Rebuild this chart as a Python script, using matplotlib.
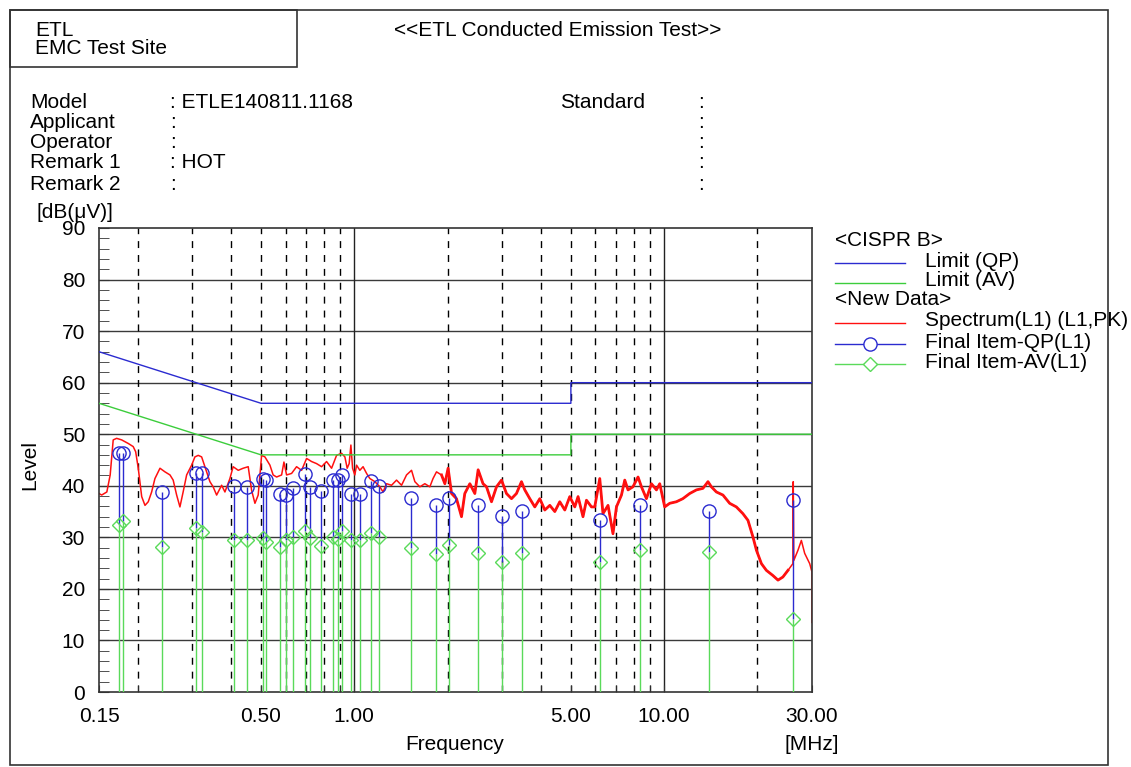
import matplotlib
matplotlib.use('Agg')
import matplotlib.pyplot as plt
from matplotlib.lines import Line2D
from matplotlib.patches import Rectangle
from matplotlib.ticker import FixedLocator, NullFormatter

plt.rcParams['font.family'] = ['Liberation Sans', 'DejaVu Sans']

# ---- data ----
# CISPR 22 class B limits (MHz, dBuV)
limit_freq = [0.15, 0.5, 5.0, 5.0, 30.0]
limit_qp = [66, 56, 56, 60, 60]
limit_av = [56, 46, 46, 50, 50]

# peak spectrum trace (MHz, dBuV)
spectrum_freq = [
    0.150, 0.153, 0.159, 0.163, 0.1667, 0.171, 0.1775, 0.1865, 0.1934, 0.197,
    0.2008, 0.206, 0.2111, 0.2163, 0.2218, 0.2273, 0.236, 0.2449, 0.2542, 0.2603,
    0.2671, 0.2737, 0.2803, 0.2877, 0.2986, 0.3059, 0.3136, 0.3216, 0.3296, 0.342,
    0.3503, 0.3595, 0.3731, 0.3824, 0.3968, 0.4064, 0.4221, 0.4378, 0.4546, 0.4663,
    0.4779, 0.4896, 0.5022, 0.5147, 0.5342, 0.5471, 0.5614, 0.5827, 0.5928, 0.6047,
    0.6276, 0.6512, 0.676, 0.7015, 0.7281, 0.7555, 0.7842, 0.8138, 0.8447, 0.8765,
    0.9098, 0.9325, 0.9484, 0.9626, 0.975, 0.9873, 1.004, 1.017, 1.042, 1.0674,
    1.0954, 1.1226, 1.1652, 1.2092, 1.2384, 1.2707, 1.3189, 1.3687, 1.4207, 1.4743,
    1.5302, 1.5683, 1.6275, 1.6892, 1.753, 1.795, 1.842, 1.912, 1.96, 2.008,
    2.06, 2.137, 2.218, 2.273, 2.36, 2.449, 2.51, 2.603, 2.671, 2.772,
    2.877, 2.986, 3.098, 3.216, 3.337, 3.464, 3.55, 3.684, 3.824, 3.969,
    4.119, 4.275, 4.437, 4.604, 4.779, 4.959, 5.147, 5.274, 5.471, 5.614,
    5.827, 5.97, 6.197, 6.347, 6.59, 6.836, 7.015, 7.281, 7.462, 7.646,
    7.93, 8.236, 8.447, 8.765, 9.098, 9.442, 9.677, 10.04, 10.42, 10.95,
    11.49, 12.09, 12.71, 13.34, 13.85, 14.2, 14.74, 15.48, 16.27, 17.1,
    17.95, 18.64, 19.34, 19.85, 20.6, 21.37, 22.43, 23.3, 24.16, 25.1,
    26.03, 26.1, 26.2, 27.03, 27.72, 28.41, 29.49, 29.99, 30.0]
spectrum_level = [
    38.5, 38.2, 38.8, 42.1, 48.9, 49.2, 48.9, 48.2, 47.6, 46.6,
    43.4, 37.9, 36.2, 36.9, 38.8, 41.4, 43.4, 42.7, 42.1, 41.1,
    38.2, 35.9, 38.8, 42.1, 44.0, 45.6, 45.9, 45.6, 43.7, 40.8,
    39.8, 38.2, 40.1, 38.8, 41.4, 43.7, 43.0, 43.4, 43.7, 39.1,
    36.6, 38.2, 45.9, 45.6, 44.0, 42.1, 41.7, 42.1, 44.6, 42.1,
    42.4, 43.7, 43.0, 45.3, 44.7, 44.3, 43.7, 44.7, 43.4, 45.9,
    46.3, 45.6, 43.4, 44.3, 47.9, 43.4, 42.1, 44.0, 43.0, 43.7,
    42.4, 41.4, 40.8, 39.8, 38.8, 40.4, 40.1, 41.1, 40.1, 42.1,
    43.0, 40.8, 39.8, 40.4, 39.8, 41.4, 42.7, 42.1, 40.4, 43.4,
    38.5, 37.5, 34.0, 38.5, 40.4, 38.5, 43.1, 40.4, 39.8, 36.9,
    39.8, 41.1, 38.5, 37.5, 38.5, 40.8, 39.2, 37.5, 35.9, 37.5,
    35.3, 36.2, 35.0, 36.9, 35.3, 37.9, 35.9, 37.9, 34.0, 37.2,
    35.9, 35.9, 41.4, 34.6, 36.2, 30.7, 35.9, 38.2, 41.1, 39.2,
    39.8, 41.7, 39.8, 37.5, 40.4, 39.2, 40.4, 35.9, 36.6, 36.9,
    37.5, 38.5, 39.2, 39.5, 40.8, 39.8, 38.8, 38.2, 36.6, 35.9,
    34.6, 33.3, 30.1, 27.5, 24.9, 23.6, 22.6, 21.7, 22.3, 23.6,
    24.9, 40.8, 25.5, 27.5, 29.4, 26.9, 24.9, 23.3, 13.5]

# final measurement items
item_freq = [0.174, 0.179, 0.240, 0.309, 0.322, 0.409, 0.449, 0.507, 0.520, 0.577,
             0.601, 0.634, 0.695, 0.718, 0.779, 0.851, 0.884, 0.910, 0.973, 1.040,
             1.135, 1.198, 1.519, 1.829, 2.018, 2.515, 2.990, 3.479, 6.21, 8.35,
             13.97, 26.0]
item_qp = [46.3, 46.3, 38.7, 42.5, 42.4, 40.0, 39.8, 41.3, 41.1, 38.5,
           38.2, 39.5, 42.2, 39.8, 38.9, 41.1, 41.2, 42.0, 38.5, 38.5,
           40.9, 39.9, 37.7, 36.3, 37.7, 36.3, 34.2, 35.1, 33.3, 36.3,
           35.1, 37.2]
item_av = [32.3, 33.1, 28.2, 31.8, 31.1, 29.4, 29.4, 29.9, 29.0, 28.2,
           29.4, 30.0, 31.2, 29.9, 28.4, 30.1, 29.6, 31.3, 29.5, 29.5,
           30.9, 30.1, 27.9, 26.7, 28.6, 26.9, 25.3, 27.0, 25.3, 27.5,
           27.2, 14.2]

x_tick_values = [0.15, 0.5, 1.0, 5.0, 10.0, 30.0]
y_tick_values = [0, 10, 20, 30, 40, 50, 60, 70, 80, 90]

header_labels = ['Model', 'Applicant', 'Operator', 'Remark 1', 'Remark 2']
header_values = [': ETLE140811.1168', ':', ':', ': HOT', ':']

RED = '#ff1010'
BLUE = '#2b2bd0'
GREEN = '#3ccd3c'
STEM_GREEN = '#5ada5a'

W, H = 1131, 767
FS = 15


def fx(px):
    return px / W


def fy(py):
    return 1 - py / H


fig = plt.figure(figsize=(W / 100, H / 100), dpi=100)
ax = fig.add_axes([fx(99), fy(692), fx(812) - fx(99), fy(228) - fy(692)])

# grid: solid horizontal, dashed minor verticals, solid decades
for yv in y_tick_values[1:-1]:
    ax.axhline(yv, color='#3a3a3a', lw=1.0, zorder=1)
for dec in [0.1, 1.0, 10.0]:
    for m in range(2, 10):
        v = dec * m
        if 0.15 < v < 30:
            ax.axvline(v, color='black', lw=1.0, ls=(0, (5, 5)), zorder=1)
for v in [1.0, 10.0]:
    ax.axvline(v, color='#222222', lw=1.0, zorder=1)

# limits
ax.plot(limit_freq, limit_qp, color=BLUE, lw=1.0, zorder=3)
ax.plot(limit_freq, limit_av, color=GREEN, lw=1.0, zorder=3)

# spectrum: the sweep is dense, so the noisy upper part reads as a thick band
ax.plot(spectrum_freq, spectrum_level, color=RED, lw=1.1, zorder=2)
hf = [i for i, f in enumerate(spectrum_freq) if 1.9 <= f <= 26.0]
ax.plot([spectrum_freq[i] for i in hf], [spectrum_level[i] for i in hf],
        color=RED, lw=2.0, zorder=2)

# final items: green stem up to AV, blue stem on from AV to QP
ax.vlines(item_freq, item_av, item_qp, color=BLUE, lw=1.0, zorder=4)
ax.vlines(item_freq, 0, item_av, color=STEM_GREEN, lw=1.0, zorder=5)
ax.plot(item_freq, item_qp, ls='none', marker='o', ms=9.5, mfc='none',
        mec=BLUE, mew=1.0, zorder=6)
ax.plot(item_freq, item_av, ls='none', marker='D', ms=7.5, mfc='none',
        mec=STEM_GREEN, mew=1.0, zorder=6)

ax.set_xscale('log')
ax.set_xlim(0.15, 30)
ax.set_ylim(0, 90)
ax.set_xticks(x_tick_values)
ax.set_xticklabels(['%.2f' % v for v in x_tick_values])
minor_x = [d * m for d in [0.1, 1.0, 10.0] for m in range(2, 10) if 0.15 < d * m < 30]
ax.xaxis.set_minor_locator(FixedLocator(minor_x))
ax.xaxis.set_minor_formatter(NullFormatter())
ax.set_yticks(y_tick_values)
ax.yaxis.set_minor_locator(FixedLocator(list(range(0, 91, 2))))
ax.tick_params(axis='both', which='both', direction='in', labelsize=FS,
               color='#333333')
ax.tick_params(axis='y', which='major', length=7, pad=10)
ax.tick_params(axis='y', which='minor', length=7)
ax.tick_params(axis='x', which='major', length=5, pad=11)
ax.tick_params(axis='x', which='minor', length=5)
for sp in ax.spines.values():
    sp.set_color('#333333')
    sp.set_linewidth(1.2)

# axis titles
fig.text(fx(30), fy(465), 'Level', rotation=90, ha='center', va='center', fontsize=FS)
fig.text(fx(455), fy(744), 'Frequency', ha='center', va='center', fontsize=FS)
fig.text(fx(812), fy(744), '[MHz]', ha='center', va='center', fontsize=FS)
fig.text(fx(37), fy(212), '[dB(μV)]', ha='left', va='center', fontsize=FS)

# page frame and header box
fig.add_artist(Rectangle((fx(10), fy(765)), fx(1108) - fx(10), fy(10) - fy(765),
                         transform=fig.transFigure, fill=False, ec='#333333', lw=1.2))
fig.add_artist(Rectangle((fx(10), fy(67)), fx(297) - fx(10), fy(10) - fy(67),
                         transform=fig.transFigure, fill=False, ec='#333333', lw=1.2))
fig.text(fx(35), fy(30), 'ETL', ha='left', va='center', fontsize=FS)
fig.text(fx(35), fy(49), 'EMC Test Site', ha='left', va='center', fontsize=FS)
fig.text(fx(558), fy(30), '<<ETL Conducted Emission Test>>', ha='center', va='center',
         fontsize=FS)

row_y = [102, 123, 143, 163, 184]
for lab, val, yy in zip(header_labels, header_values, row_y):
    fig.text(fx(30), fy(yy), lab, ha='left', va='center', fontsize=FS)
    fig.text(fx(170), fy(yy), val, ha='left', va='center', fontsize=FS)
    fig.text(fx(698), fy(yy), ':', ha='left', va='center', fontsize=FS)
fig.text(fx(560), fy(102), 'Standard', ha='left', va='center', fontsize=FS)

# legend, drawn by hand like the instrument software does
fig.text(fx(835), fy(241), '<CISPR B>', ha='left', va='center', fontsize=FS)
fig.text(fx(835), fy(299), '<New Data>', ha='left', va='center', fontsize=FS)
legend_rows = [
    (261, 'Limit (QP)', BLUE, None),
    (281, 'Limit (AV)', GREEN, None),
    (321, 'Spectrum(L1) (L1,PK)', RED, None),
    (342, 'Final Item-QP(L1)', BLUE, 'o'),
    (362, 'Final Item-AV(L1)', STEM_GREEN, 'D'),
]
for yy, lab, col, mk in legend_rows:
    fig.add_artist(Line2D([fx(835), fx(905)], [fy(yy + 2), fy(yy + 2)],
                          transform=fig.transFigure, color=col, lw=1.0))
    if mk:
        fig.add_artist(Line2D([fx(870)], [fy(yy + 2)], transform=fig.transFigure,
                              ls='none', marker=mk, ms=9.5 if mk == 'o' else 7.5,
                              mfc='white', mec=col, mew=1.0))
    fig.text(fx(925), fy(yy), lab, ha='left', va='center', fontsize=FS)

fig.savefig('out.png', dpi=100)
